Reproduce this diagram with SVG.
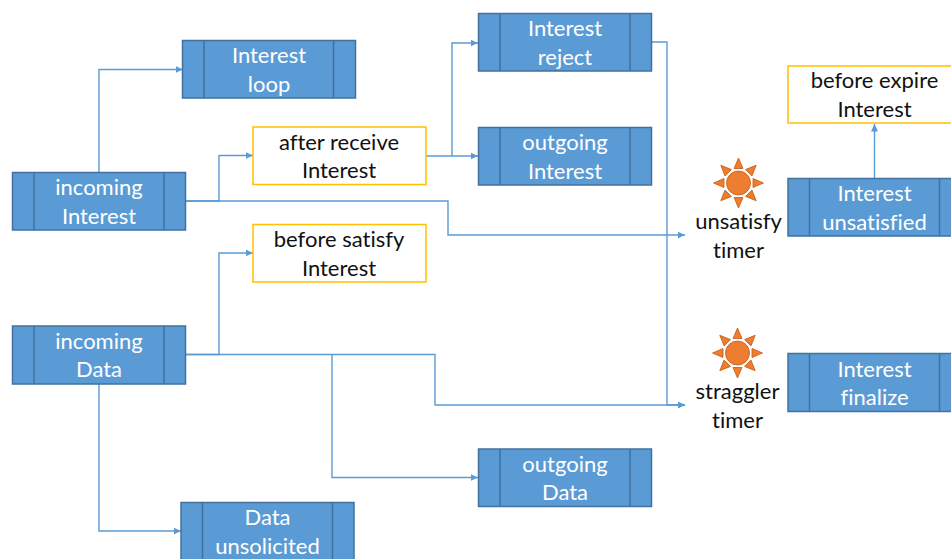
<svg xmlns="http://www.w3.org/2000/svg" width="951" height="559" viewBox="0 0 951 559">
<style>
text{font-family:"Lato","Carlito","Open Sans",sans-serif;font-size:22px;text-anchor:middle;font-variant-ligatures:none}
.p rect,.p line{fill:#5b9bd5;stroke:#41719c;stroke-width:1.5}
.p text{fill:#fff}
.y rect{fill:#fff;stroke:#ffc000;stroke-width:1.5}
.y text,.t text{fill:#111}
.c path{fill:none;stroke:#5b9bd5;stroke-width:1.4;marker-end:url(#a)}
.s{fill:#ed7d31;stroke:#c55a11;stroke-width:.8}
</style>
<defs>
<marker id="a" markerUnits="userSpaceOnUse" markerWidth="8" markerHeight="8" refX="7.500" refY="3.500" orient="auto"><path d="M0 0L7.500 3.500L0 7z" fill="#5b9bd5"/></marker>
<g id="sun"><circle r="12" class="s"/><g class="s"><path id="r" d="M-4.500 -14.500L0 -25 4.500 -14.500z"/><use href="#r" transform="rotate(45)"/><use href="#r" transform="rotate(90)"/><use href="#r" transform="rotate(135)"/><use href="#r" transform="rotate(180)"/><use href="#r" transform="rotate(225)"/><use href="#r" transform="rotate(270)"/><use href="#r" transform="rotate(315)"/></g></g>
</defs>
<g id="connectors" class="c">
<path d="M99 172V69.500H183"/>
<path d="M185 201H219V155.500H253"/>
<path d="M185 201H448V235H685"/>
<path d="M426 156H478"/>
<path d="M452 156V43H478"/>
<path d="M651 42H667V405H685"/>
<path d="M185 354.500H219V253H253"/>
<path d="M185 354.500H435V405H685"/>
<path d="M332 354.500V477.500H478"/>
<path d="M99 384V531H181"/>
<path d="M874.500 178V124"/>
</g>
<g id="interest-loop" class="p"><rect x="182.500" y="40.500" width="173" height="57.500"/><line x1="204" y1="40.500" x2="204" y2="98"/><line x1="333.500" y1="40.500" x2="333.500" y2="98"/><text x="269" y="63">Interest</text><text x="269" y="92">loop</text></g>
<g id="interest-reject" class="p"><rect x="478.500" y="13.500" width="173" height="57.500"/><line x1="500" y1="13.500" x2="500" y2="71"/><line x1="630" y1="13.500" x2="630" y2="71"/><text x="565" y="36">Interest</text><text x="565" y="65">reject</text></g>
<g id="outgoing-interest" class="p"><rect x="478.500" y="127.500" width="173" height="57.500"/><line x1="500" y1="127.500" x2="500" y2="185"/><line x1="630" y1="127.500" x2="630" y2="185"/><text x="565" y="150">outgoing</text><text x="565" y="179">Interest</text></g>
<g id="after-receive" class="y"><rect x="253" y="127" width="173" height="57.500"/><text x="339" y="149.500">after receive</text><text x="339" y="178">Interest</text></g>
<g id="incoming-interest" class="p"><rect x="12.500" y="172.500" width="173" height="57.500"/><line x1="34" y1="172.500" x2="34" y2="230"/><line x1="164" y1="172.500" x2="164" y2="230"/><text x="99" y="195">incoming</text><text x="99" y="224">Interest</text></g>
<g id="before-satisfy" class="y"><rect x="253" y="224.500" width="173" height="57.500"/><text x="339" y="247">before satisfy</text><text x="339" y="276">Interest</text></g>
<g id="incoming-data" class="p"><rect x="12.500" y="326" width="173" height="58"/><line x1="34" y1="326" x2="34" y2="384"/><line x1="164" y1="326" x2="164" y2="384"/><text x="99" y="349">incoming</text><text x="99" y="377">Data</text></g>
<g id="outgoing-data" class="p"><rect x="478.500" y="449" width="173" height="57.500"/><line x1="500" y1="449" x2="500" y2="506.500"/><line x1="630" y1="449" x2="630" y2="506.500"/><text x="565" y="472">outgoing</text><text x="565" y="500">Data</text></g>
<g id="data-unsolicited" class="p"><rect x="181" y="502.500" width="173" height="58"/><line x1="202.500" y1="502.500" x2="202.500" y2="560"/><line x1="332.500" y1="502.500" x2="332.500" y2="560"/><text x="267.500" y="525">Data</text><text x="267.500" y="554">unsolicited</text></g>
<g id="before-expire" class="y"><rect x="788" y="66" width="173" height="57"/><text x="874.500" y="88">before expire</text><text x="874.500" y="117">Interest</text></g>
<g id="interest-unsatisfied" class="p"><rect x="788" y="178.500" width="173" height="57.500"/><line x1="809.500" y1="178.500" x2="809.500" y2="236"/><line x1="939.500" y1="178.500" x2="939.500" y2="236"/><text x="874.500" y="201">Interest</text><text x="874.500" y="230">unsatisfied</text></g>
<g id="interest-finalize" class="p"><rect x="788" y="353.500" width="173" height="58"/><line x1="809.500" y1="353.500" x2="809.500" y2="411.500"/><line x1="939.500" y1="353.500" x2="939.500" y2="411.500"/><text x="874.500" y="377">Interest</text><text x="874.500" y="405">finalize</text></g>
<g id="unsatisfy-timer" class="t"><use href="#sun" x="738.500" y="183"/><text x="738.500" y="229">unsatisfy</text><text x="738.500" y="258">timer</text></g>
<g id="straggler-timer" class="t"><use href="#sun" x="737.500" y="353"/><text x="737.500" y="399">straggler</text><text x="737.500" y="428">timer</text></g>
</svg>
